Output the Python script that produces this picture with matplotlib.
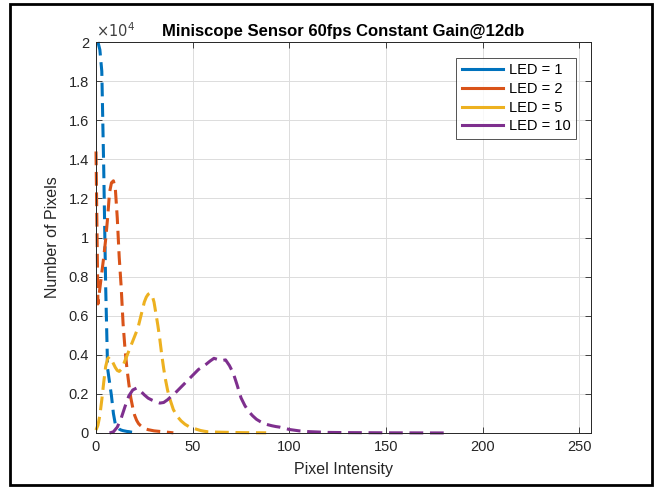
import matplotlib
matplotlib.use("Agg")
import matplotlib.pyplot as plt
from matplotlib.lines import Line2D
from matplotlib.patches import Rectangle
from matplotlib.ticker import FuncFormatter

plt.rcParams['font.family'] = ['Liberation Sans', 'DejaVu Sans']

# ---- data ----
x_led1 = [1, 2, 3, 4, 5, 6, 7, 8, 9, 10, 11, 12, 13, 14, 15, 16, 17, 18, 19, 20, 21, 22]
y_led1 = [20000, 19600, 18500, 13500, 7500, 3300, 2600, 1900, 1000, 450, 300, 200,
          150, 120, 100, 80, 70, 50, 40, 30, 20, 10]

x_led2 = list(range(0, 41))
y_led2 = [14400, 6600, 7400, 8200, 9000, 9900, 11000, 12300, 12800, 12900, 12500,
          11000, 9000, 7500, 5600, 4300, 3300, 2500, 1800, 1300, 900, 650, 480, 380,
          300, 250, 200, 170, 150, 130, 110, 100, 90, 80, 70, 60, 50, 40, 30, 20, 10]

x_led5 = [0, 1, 2, 3, 4, 5, 6, 7, 8, 9, 10, 11, 12, 13, 14, 15, 16, 17, 18, 19, 20,
          21, 22, 23, 24, 25, 26, 27, 28, 29, 30, 31, 32, 33, 34, 35, 36, 37, 38, 39,
          40, 42, 44, 46, 48, 50, 52, 54, 56, 58, 60, 65, 70, 75, 80, 88]
y_led5 = [150, 400, 900, 1700, 2600, 3400, 3800, 3900, 3750, 3550, 3350, 3200, 3150,
          3250, 3450, 3700, 3950, 4200, 4450, 4700, 4950, 5200, 5500, 5900, 6300, 6700,
          6950, 7100, 7150, 7050, 6700, 6100, 5500, 4800, 4000, 3300, 2700, 2200, 1800,
          1500, 1200, 850, 620, 450, 330, 260, 190, 130, 90, 60, 50, 40, 30, 20, 15, 10]

x_led10 = [7, 9, 11, 13, 15, 17, 19, 21, 23, 25, 27, 29, 31, 33, 35, 37, 39, 41, 43,
           45, 47, 49, 51, 53, 55, 57, 59, 61, 63, 65, 67, 69, 71, 73, 75, 77, 79, 81,
           83, 85, 87, 89, 91, 93, 95, 100, 105, 110, 115, 120, 130, 140, 150, 160,
           170, 180]
y_led10 = [0, 60, 300, 750, 1350, 1900, 2200, 2300, 2150, 1950, 1780, 1680, 1600, 1530,
           1560, 1700, 1880, 2050, 2250, 2450, 2650, 2850, 3050, 3250, 3380, 3520, 3680,
           3820, 3760, 3700, 3740, 3450, 3060, 2450, 1800, 1400, 1100, 880, 700, 580,
           480, 420, 370, 330, 300, 180, 110, 70, 50, 30, 20, 15, 10, 8, 5, 3]

labels = ['LED = 1', 'LED = 2', 'LED = 5', 'LED = 10']
colors = ['#0072BD', '#D95319', '#EDB120', '#7E2F8E']
x_ticks = [0, 50, 100, 150, 200, 250]
y_ticks = [0, 2000, 4000, 6000, 8000, 10000, 12000, 14000, 16000, 18000, 20000]

# ---- figure ----
W, H = 658, 487
fig = plt.figure(figsize=(W / 100, H / 100), dpi=100)
fig.patch.set_facecolor('white')
ax = fig.add_axes([96 / W, 1 - 433 / H, (591 - 96) / W, (433 - 42) / H])

series = [(x_led1, y_led1), (x_led2, y_led2), (x_led5, y_led5), (x_led10, y_led10)]
for (xs, ys), c in zip(series, colors):
    ax.plot(xs, ys, color=c, lw=2.2, ls=(0, (4.5, 2.2)), solid_capstyle='butt',
            dash_capstyle='butt', clip_on=False)

ax.set_xlim(0, 256)
ax.set_ylim(0, 20000)
ax.set_xticks(x_ticks)
ax.set_yticks(y_ticks)
ax.yaxis.set_major_formatter(FuncFormatter(lambda v, p: '%g' % (v / 1e4)))

tc = '#262626'
ax.tick_params(direction='in', length=4, width=0.6, colors=tc, labelsize=10.5,
               top=True, right=True, pad=5)
for s in ax.spines.values():
    s.set_color('#262626')
    s.set_linewidth(0.7)
ax.grid(True, color='#dcdcdc', lw=0.7)
ax.set_axisbelow(True)

ax.set_xlabel('Pixel Intensity', fontsize=11.5, color=tc, labelpad=6)
ax.set_ylabel('Number of Pixels', fontsize=11.5, color=tc, labelpad=6)
ax.set_title('Miniscope Sensor 60fps Constant Gain@12db', fontsize=12,
             fontweight='bold', color='black', pad=4)
ax.text(0.0, 1.005, r'$\times10^{4}$', transform=ax.transAxes, fontsize=10.5,
        color='#404040', ha='left', va='bottom')

handles = [Line2D([], [], color=c, lw=2.2) for c in colors]
leg = ax.legend(handles, labels, loc='upper right', bbox_to_anchor=(0.97, 0.96),
                borderaxespad=0, fontsize=10.5, frameon=True, fancybox=False,
                edgecolor='#262626', handlelength=2.8, handletextpad=0.4,
                labelspacing=0.32, borderpad=0.4)
leg.get_frame().set_linewidth(0.7)

# outer black frame
fig.patches.append(Rectangle((10 / W, 1 - 485 / H), (652 - 10) / W, (485 - 4) / H,
                             transform=fig.transFigure, fill=False, ec='black',
                             lw=2.0))

fig.savefig('out.png', dpi=100)
